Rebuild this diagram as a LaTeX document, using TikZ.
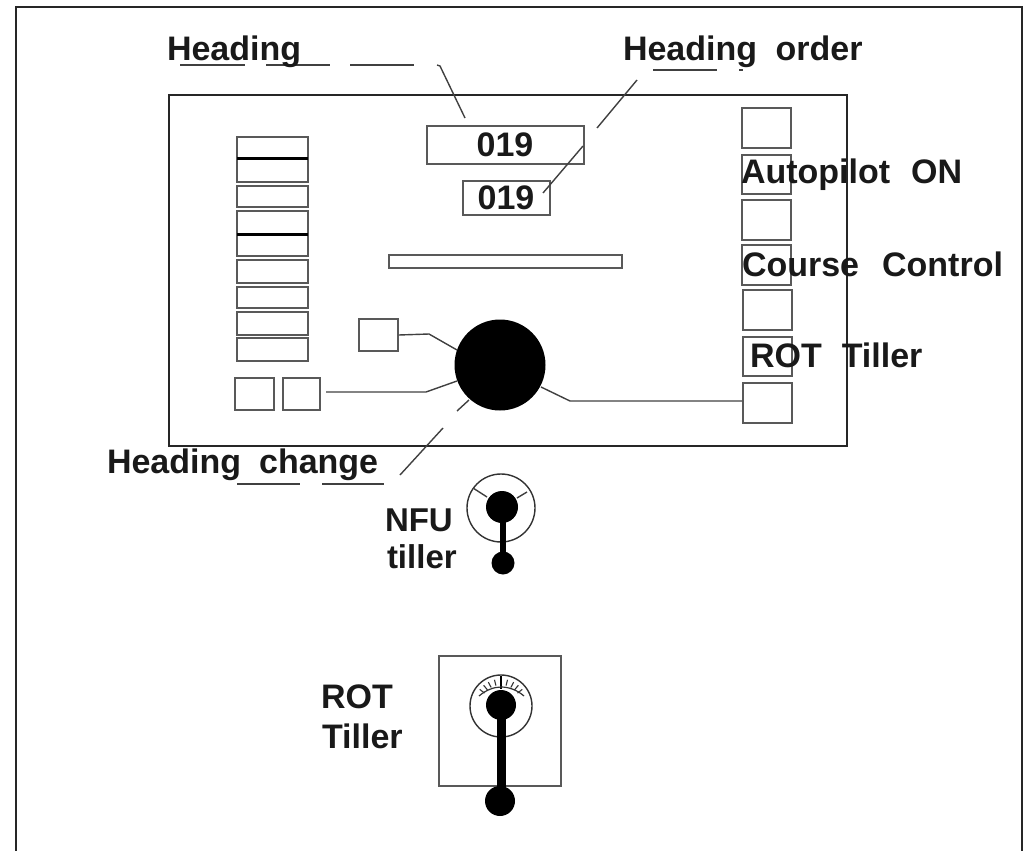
\documentclass[tikz,border=0pt]{standalone}
\usepackage{fontspec}
\setmainfont{Liberation Sans}[BoldFont={Liberation Sans Bold}]
\tikzset{
  x=1pt,y=-1pt,
  frame/.style={draw=black!85,line width=1.7pt},
  panelbox/.style={draw=black!65,line width=1.7pt,fill=none},
  leader/.style={draw=black!75,line width=1.4pt},
  label/.style={font=\fontsize{34}{34}\selectfont\bfseries,anchor=base west,inner sep=0pt,outer sep=0pt,text=black!90},
  smalllabel/.style={label,font=\fontsize{33}{33}\selectfont\bfseries},
  ball/.style={fill=black,draw=none},
  stem/.style={draw=black,line cap=butt},
}
\begin{document}
\begin{tikzpicture}
\useasboundingbox (0,0) rectangle (1023,851);
% outer frame, open at the foot
\draw[frame] (16,851) -- (16,7) -- (1022,7) -- (1022,851);
% panel
\draw[frame] (169,95) rectangle (847,446);
% left stack
\foreach \a/\b in {137/158,158/182,186/207,211/234,234/256,260/283,287/308,312/335,338/361}
  \draw[panelbox] (237,\a) rectangle (308,\b);
\draw[draw=black,line width=3pt] (237,158) -- (308,158);
\draw[draw=black,line width=3pt] (237,234) -- (308,234);
% small boxes
\node[panelbox,minimum width=39pt,minimum height=32pt,inner sep=0pt] (lowa) at (254.5,394) {};
\node[panelbox,minimum width=37pt,minimum height=32pt,inner sep=0pt] (lowb) at (301.5,394) {};
\node[panelbox,minimum width=39pt,minimum height=32pt,inner sep=0pt] (upbox) at (378.5,335) {};
% displays
\node[panelbox,minimum width=157pt,minimum height=38pt,inner sep=0pt] (hdgbox) at (505.5,145) {};
\node[panelbox,minimum width=87pt,minimum height=34pt,inner sep=0pt] (ordbox) at (506.5,198) {};
\node[label,anchor=base] (hdgval) at (505,156) {019};
\node[label,anchor=base] (ordval) at (506,209) {019};
\draw[panelbox] (389,255) rectangle (622,268);
% right column
\foreach \a/\b in {108/148,155/194,200/240,245/285}
  \draw[panelbox] (742,\a) rectangle (791,\b);
\foreach \a/\b in {290/330,337/376}
  \draw[panelbox] (743,\a) rectangle (792,\b);
\node[panelbox,minimum width=49pt,minimum height=40pt,inner sep=0pt] (rbox) at (767.5,403) {};
% knob
\node[ball,circle,minimum size=91pt,inner sep=0pt] (knob) at (500,365) {};
\coordinate (k1) at (429,334);
\coordinate (k2) at (426,392);
\coordinate (k3) at (570,401);
\draw[leader] (upbox.east) -- (k1) -- (457,350);
\draw[leader] (326,392) -- (k2) -- (457,381);
\draw[leader] (541,387) -- (k3) -- (rbox.west |- k3);
% heading change leader
\draw[leader] (469,400) -- (457,411);
\draw[leader] (443,428) -- (400,475);
\draw[leader] (237,484) -- (300,484);
\draw[leader] (322,484) -- (384,484);
% heading leader
\draw[leader] (180,65) -- (245,65);
\draw[leader] (266,65) -- (330,65);
\draw[leader] (350,65) -- (414,65);
\draw[leader] (437,65) -- (440,66) -- (465,118);
% heading order leader
\draw[leader] (653,70) -- (717,70);
\draw[leader] (739,70) -- (743,70);
\draw[leader] (637,80) -- (597,128);
\draw[leader] (583,146) -- (543,193);
% texts
\node[label] (t1) at (167,60) {Heading};
\node[label] (t2) at (623,60) {Heading\hspace{18.5pt}order};
\node[label] (t3) at (741,183) {Autopilot\hspace{21pt}ON};
\node[label] (t4) at (742,276) {Course\hspace{23pt}Control};
\node[label] (t5) at (750,367) {ROT\hspace{20pt}Tiller};
\node[label] (t6) at (107,473) {Heading\hspace{18pt}change};
\node[smalllabel] (t7) at (385,531) {NFU};
\node[smalllabel] (t8) at (387,568) {tiller};
\node[label] (t9) at (321,708) {ROT};
\node[label] (t10) at (322,748) {Tiller};
% NFU tiller
\draw[line width=1.4pt,draw=black!80] (501,508) circle (34);
\draw[leader] (473,488) -- (487,497);
\draw[leader] (527,492) -- (517,498);
\draw[stem,line width=6pt] (502.5,507) -- (502.5,563);
\node[ball,circle,minimum size=32pt,inner sep=0pt] (nfuhub) at (502,507) {};
\node[ball,circle,minimum size=23pt,inner sep=0pt] (nfuend) at (503,563) {};
% ROT tiller
\draw[panelbox] (439,656) rectangle (561,786);
\draw[line width=1.4pt,draw=black!80] (501,706) circle (31);
\foreach \t in {-52,-40,-28,-14,14,28,40,52}
  \draw[line width=1.1pt,draw=black!80] (501,706) ++({90-\t}:{-27}) -- ++({90-\t}:{6});
\draw[line width=1.6pt,draw=black] (501,676) -- (501,689);
\draw[line width=1.2pt,draw=black!80] (479,696) .. controls (486,690) and (494,687) .. (501,687) .. controls (509,687) and (517,690) .. (524,696);
\draw[stem,line width=9pt] (501,705) -- (501,801);
\node[ball,circle,minimum size=30pt,inner sep=0pt] (rothub) at (501,705) {};
\node[ball,circle,minimum size=30pt,inner sep=0pt] (rotend) at (500,801) {};
\end{tikzpicture}
\end{document}
